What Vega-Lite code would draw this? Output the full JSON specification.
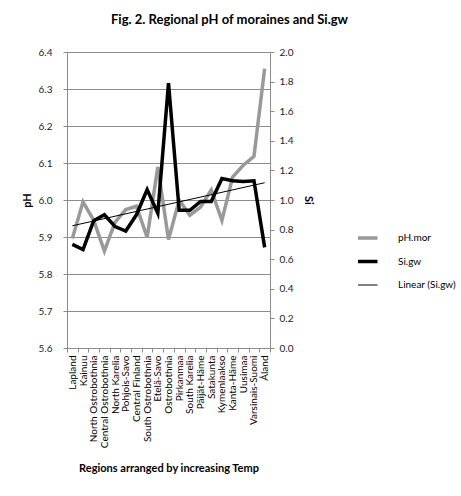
{
  "$schema": "https://vega.github.io/schema/vega-lite/v6.json",
  "autosize": "none",
  "padding": {"left": 67, "top": 52, "right": 191, "bottom": 148},
  "width": 203,
  "height": 296,
  "background": "white",
  "config": {
    "font": "Lato",
    "view": {"stroke": null},
    "axis": {
      "domainColor": "#8c8c8c",
      "tickColor": "#8c8c8c",
      "gridColor": "#8c8c8c",
      "labelColor": "#222",
      "labelFontSize": 10,
      "titleFontSize": 11,
      "titleColor": "#000",
      "titleFontWeight": "bold",
      "tickSize": 4
    }
  },
  "title": {
    "text": "Fig. 2. Regional pH of moraines and Si.gw",
    "fontSize": 13,
    "fontWeight": "bold",
    "color": "#000",
    "dx": 61,
    "offset": 20
  },
  "data": {
    "values": [
      {"idx": 1, "region": "Lapland", "pH": 5.896, "Si": 0.70},
      {"idx": 2, "region": "Kainuu", "pH": 5.995, "Si": 0.665},
      {"idx": 3, "region": "North Ostrobothnia", "pH": 5.945, "Si": 0.86},
      {"idx": 4, "region": "Central Ostrobothnia", "pH": 5.862, "Si": 0.90},
      {"idx": 5, "region": "North Karelia", "pH": 5.94, "Si": 0.82},
      {"idx": 6, "region": "Pohjois-Savo", "pH": 5.974, "Si": 0.79},
      {"idx": 7, "region": "Central Finland", "pH": 5.983, "Si": 0.90},
      {"idx": 8, "region": "South Ostrobothnia", "pH": 5.899, "Si": 1.07},
      {"idx": 9, "region": "Etelä-Savo", "pH": 6.089, "Si": 0.91},
      {"idx": 10, "region": "Ostrobothnia", "pH": 5.893, "Si": 1.79},
      {"idx": 11, "region": "Pirkanmaa", "pH": 6.0, "Si": 0.93},
      {"idx": 12, "region": "South Karelia", "pH": 5.959, "Si": 0.93},
      {"idx": 13, "region": "Päijät-Häme", "pH": 5.981, "Si": 0.99},
      {"idx": 14, "region": "Satakunta", "pH": 6.027, "Si": 0.99},
      {"idx": 15, "region": "Kymenlaakso", "pH": 5.945, "Si": 1.145},
      {"idx": 16, "region": "Kanta-Häme", "pH": 6.062, "Si": 1.13},
      {"idx": 17, "region": "Uusimaa", "pH": 6.094, "Si": 1.125},
      {"idx": 18, "region": "Varsinais-Suomi", "pH": 6.118, "Si": 1.13},
      {"idx": 19, "region": "Åland", "pH": 6.355, "Si": 0.68}
    ]
  },
  "layer": [
    {
      "mark": {"type": "line", "strokeJoin": "miter", "strokeWidth": 3.5},
      "encoding": {
        "x": {
          "field": "region", "type": "nominal", "sort": null,
          "scale": {"type": "band", "paddingInner": 0, "paddingOuter": 0},
          "axis": {
            "title": "Regions arranged by increasing Temp",
            "labelAngle": -90, "labelAlign": "right", "labelBaseline": "middle",
            "labelPadding": 3, "tickBand": "extent", "titlePadding": 15,
            "grid": false, "labelColor": "#000"
          }
        },
        "y": {
          "field": "pH", "type": "quantitative",
          "scale": {"domain": [5.6, 6.4], "nice": false, "zero": false},
          "axis": {
            "orient": "left", "title": "pH", "format": ".1f",
            "values": [5.6, 5.7, 5.8, 5.9, 6.0, 6.1, 6.2, 6.3, 6.4],
            "grid": true, "labelPadding": 11, "titlePadding": 6
          }
        },
        "color": {
          "datum": "pH.mor",
          "scale": {"domain": ["pH.mor", "Si.gw", "Linear (Si.gw)"], "range": ["#999999", "#000000", "#000000"]},
          "legend": {
            "title": null, "orient": "none", "legendX": 291, "legendY": 176,
            "symbolType": "stroke", "symbolSize": 841, "labelOffset": 30,
            "labelFontSize": 10, "labelColor": "#000", "clipHeight": 20, "rowPadding": 3.5,
            "encode": {
              "symbols": {
                "update": {
                  "strokeWidth": {"signal": "datum.value === 'Linear (Si.gw)' ? 1 : 3.5"}
                }
              }
            }
          }
        }
      }
    },
    {
      "mark": {"type": "line", "strokeJoin": "miter", "strokeWidth": 3.5},
      "encoding": {
        "x": {
          "field": "region", "type": "nominal", "sort": null,
          "scale": {"type": "band", "paddingInner": 0, "paddingOuter": 0},
          "axis": null
        },
        "y": {
          "field": "Si", "type": "quantitative",
          "scale": {"domain": [0, 2], "nice": false},
          "axis": {
            "orient": "right", "title": "Si", "format": ".1f",
            "values": [0, 0.2, 0.4, 0.6, 0.8, 1.0, 1.2, 1.4, 1.6, 1.8, 2.0],
            "grid": false, "labelPadding": 5, "titlePadding": 10
          }
        },
        "color": {"datum": "Si.gw"}
      }
    },
    {
      "transform": [{"regression": "Si", "on": "idx"}],
      "mark": {"type": "line", "strokeWidth": 1},
      "encoding": {
        "x": {
          "field": "idx", "type": "quantitative",
          "scale": {"domain": [0.5, 19.5], "nice": false, "zero": false},
          "axis": null
        },
        "y": {
          "field": "Si", "type": "quantitative",
          "scale": {"domain": [0, 2], "nice": false},
          "axis": null
        },
        "color": {"datum": "Linear (Si.gw)"}
      }
    }
  ],
  "resolve": {"scale": {"x": "independent", "y": "independent"}}
}
